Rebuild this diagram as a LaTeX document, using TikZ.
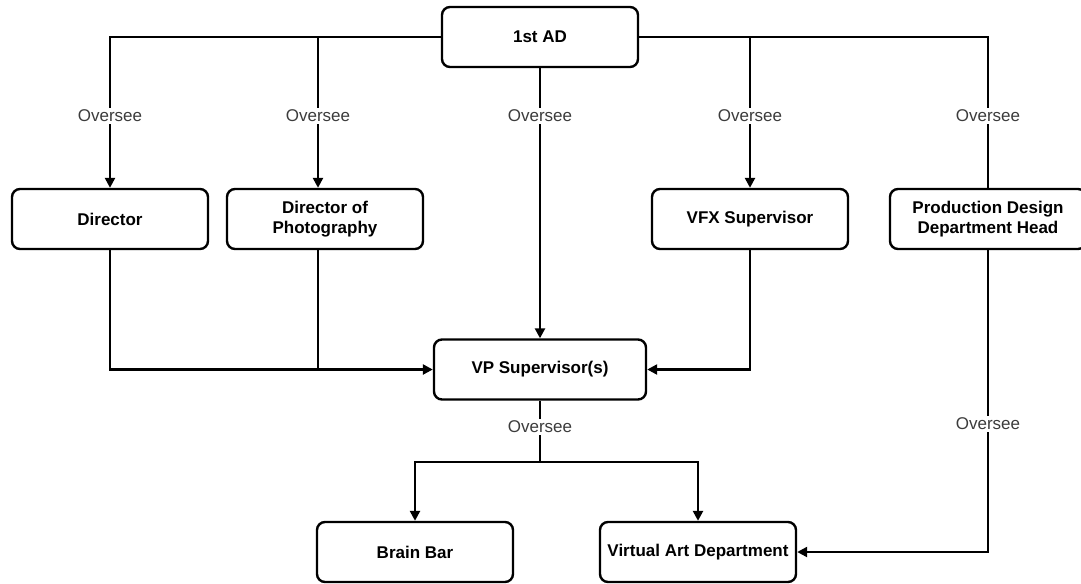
\documentclass[tikz,border=0pt]{standalone}
\usepackage{fontspec}
\setmainfont{Liberation Sans}
\usetikzlibrary{arrows.meta,calc}
\definecolor{labelgray}{HTML}{3C3C3C}
\tikzset{
  box/.style={draw=black, line width=1.8pt, rounded corners=6pt, fill=white,
    minimum width=147pt, minimum height=45pt, align=center,
    font=\fontsize{12.75}{15}\selectfont\bfseries, inner sep=1pt},
  link/.style={draw=black, line width=1.8pt},
  arr/.style={link, -{Triangle[length=7.5pt,width=7.5pt]}},
  tag/.style={fill=white, text=labelgray, font=\fontsize{12.75}{15}\selectfont,
    inner sep=1.5pt}
}
\begin{document}
\begin{tikzpicture}[x=0.75pt,y=-0.75pt]
\useasboundingbox (0,0) rectangle (1081,583);

% boxes
\node[box] (ad)  at (540,37)  {1st AD};
\node[box] (dir) at (110,219) {Director};
\node[box] (dop) at (325,219) {Director of\\Photography};
\node[box] (vfx) at (750,219) {VFX Supervisor};
\node[box] (pd)  at (988,219) {Production Design\\Department Head};
\node[box, minimum width=159pt] (vp) at (540,369.5) {VP Supervisor(s)};
\node[box] (bb)  at (415,552) {Brain Bar};
\node[box] (vad) at (698,552) {Virtual Art Department};

% junction points
\coordinate (dopx) at (318,38);
\coordinate (vpsplit) at (540,462);

% 1st AD oversees the heads of department
\draw[arr] (ad.west) -| (dir.north);
\draw[arr] (dopx) -- (dopx |- dop.north);
\draw[arr] (ad.south) -- (vp.north);
\draw[link] (ad.east) -| (pd.north);
\draw[arr] (vfx.north |- ad.east) -- (vfx.north);

\node[tag] (t1) at (110,116) {Oversee};
\node[tag] (t2) at (318,116) {Oversee};
\node[tag] (t3) at (540,116) {Oversee};
\node[tag] (t4) at (750,116) {Oversee};
\node[tag] (t5) at (988,116) {Oversee};

% reporting lines into the VP supervisor
\draw[arr] (dir.south) |- (vp.west);
\draw[link] (dopx |- dop.south) -- (dopx |- vp.west);
\draw[arr] (vfx.south) |- (vp.east);

% VP supervisor oversees the brain bar and virtual art department
\draw[link] (vp.south) -- (vpsplit);
\draw[arr] (vpsplit) -| (bb.north);
\draw[arr] (vpsplit) -| (vad.north);
\node[tag] (t6) at (540,427) {Oversee};

% production design head oversees the virtual art department
\draw[arr] (pd.south) |- (vad.east);
\node[tag] (t7) at (988,424) {Oversee};
\end{tikzpicture}
\end{document}
